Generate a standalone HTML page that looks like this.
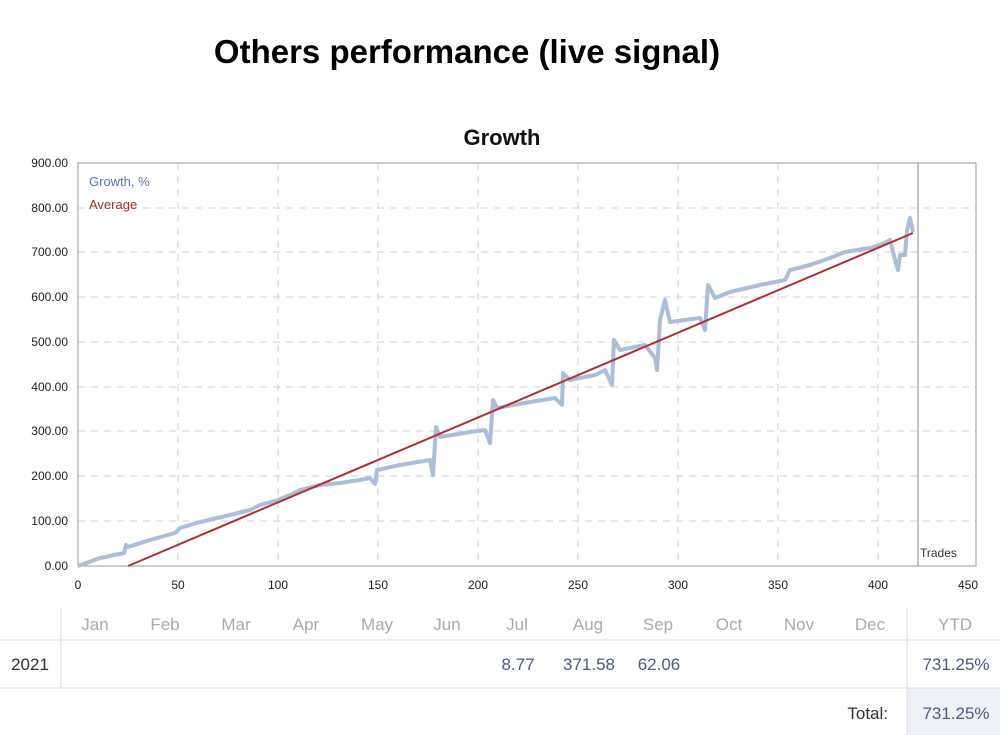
<!DOCTYPE html>
<html><head><meta charset="utf-8"><style>
body{margin:0;background:#fff;width:1000px;height:735px;overflow:hidden}
svg{display:block}
</style></head><body>
<svg width="1000" height="735" xmlns="http://www.w3.org/2000/svg" font-family="Liberation Sans, sans-serif">
<text x="467" y="63" font-size="33" font-weight="bold" text-anchor="middle" fill="#000">Others performance (live signal)</text>
<text x="502" y="145" font-size="22" font-weight="bold" text-anchor="middle" fill="#111">Growth</text>
<g stroke="#d0d0d0" stroke-dasharray="7,6" stroke-width="1">
<line x1="78" y1="521" x2="976" y2="521"/><line x1="78" y1="476" x2="976" y2="476"/>
<line x1="78" y1="431" x2="976" y2="431"/><line x1="78" y1="387" x2="976" y2="387"/>
<line x1="78" y1="342" x2="976" y2="342"/><line x1="78" y1="297" x2="976" y2="297"/>
<line x1="78" y1="252" x2="976" y2="252"/><line x1="78" y1="208" x2="976" y2="208"/>
<line x1="178" y1="163" x2="178" y2="566"/><line x1="278" y1="163" x2="278" y2="566"/>
<line x1="378" y1="163" x2="378" y2="566"/><line x1="478" y1="163" x2="478" y2="566"/>
<line x1="578" y1="163" x2="578" y2="566"/><line x1="678" y1="163" x2="678" y2="566"/>
<line x1="778" y1="163" x2="778" y2="566"/><line x1="878" y1="163" x2="878" y2="566"/>
</g>
<rect x="78" y="163" width="898" height="403" fill="none" stroke="#999"/>
<line x1="918" y1="163" x2="918" y2="566" stroke="#888"/>
<text x="920" y="557" font-size="12" fill="#333">Trades</text>
<text x="89" y="186" font-size="13" fill="#5a72b0">Growth, %</text>
<text x="89" y="209" font-size="13" fill="#a03030">Average</text>
<g font-size="12" fill="#222" text-anchor="end">
<text x="68" y="570">0.00</text><text x="68" y="525">100.00</text><text x="68" y="480">200.00</text>
<text x="68" y="435">300.00</text><text x="68" y="391">400.00</text><text x="68" y="346">500.00</text>
<text x="68" y="301">600.00</text><text x="68" y="256">700.00</text><text x="68" y="212">800.00</text>
<text x="68" y="167">900.00</text>
</g>
<g font-size="12" fill="#222" text-anchor="middle">
<text x="78" y="589">0</text><text x="178" y="589">50</text><text x="278" y="589">100</text><text x="378" y="589">150</text>
<text x="478" y="589">200</text><text x="578" y="589">250</text><text x="678" y="589">300</text><text x="778" y="589">350</text>
<text x="878" y="589">400</text><text x="968" y="589">450</text>
</g>
<polyline fill="none" stroke="#aabddb" stroke-width="4" stroke-linejoin="round" points="78,566 100,558 124,553 126,545 128,547 150,540 175,533 180,528 200,522 230,515 250,510 260,505 278,500 290,495 300,490 320,485 340,483 360,480 370,478 375,484 377,470 400,465 430,460 433,475 436,427 440,437 470,432 485,430 490,443 493,400 497,408 530,402 555,398 562,405 563,373 570,380 595,375 605,370 612,385 614,340 620,350 645,345 655,358 657,370 660,320 665,300 670,322 700,318 705,330 708,285 715,298 730,292 760,285 785,280 790,270 810,265 830,258 845,252 870,248 880,245 890,240 895,260 898,270 900,255 905,255 907,230 910,218 913,232"/>
<line x1="128" y1="566" x2="913" y2="233" stroke="#b03030" stroke-width="2"/>
<rect x="907" y="688" width="93" height="47" fill="#eef1f7"/>
<line x1="0" y1="640" x2="1000" y2="640" stroke="#ddd"/>
<line x1="0" y1="688" x2="1000" y2="688" stroke="#ddd"/>
<line x1="61" y1="608" x2="61" y2="688" stroke="#ddd"/>
<line x1="907" y1="608" x2="907" y2="735" stroke="#ddd"/>
<g font-size="17" fill="#aaa" text-anchor="middle">
<text x="95" y="630">Jan</text><text x="165" y="630">Feb</text><text x="236" y="630">Mar</text><text x="306" y="630">Apr</text>
<text x="377" y="630">May</text><text x="447" y="630">Jun</text><text x="517" y="630">Jul</text><text x="588" y="630">Aug</text>
<text x="658" y="630">Sep</text><text x="729" y="630">Oct</text><text x="799" y="630">Nov</text><text x="870" y="630">Dec</text>
<text x="955" y="630">YTD</text>
</g>
<text x="30" y="670" font-size="17" fill="#333" text-anchor="middle">2021</text>
<g font-size="17" fill="#4a5a80" text-anchor="middle">
<text x="518" y="670">8.77</text><text x="589" y="670">371.58</text><text x="659" y="670">62.06</text>
<text x="956" y="670">731.25%</text><text x="956" y="719">731.25%</text>
</g>
<text x="888" y="719" font-size="17" fill="#333" text-anchor="end">Total:</text>
</svg>
</body></html>
